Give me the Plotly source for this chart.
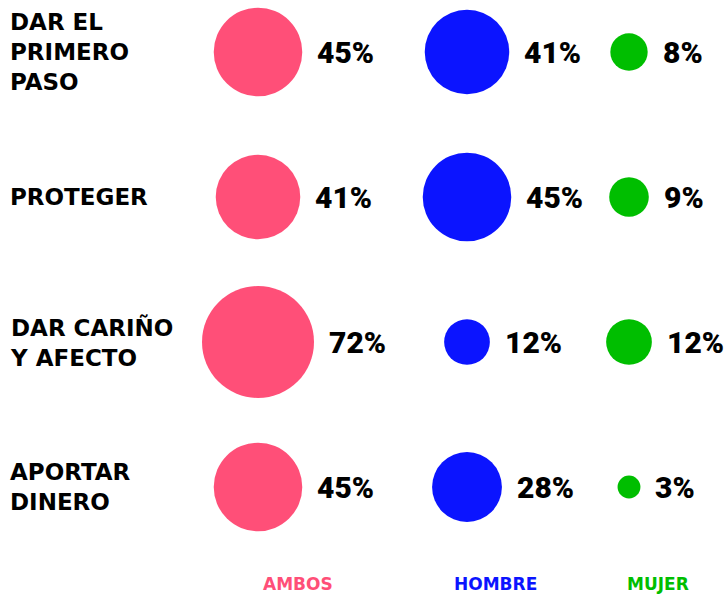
import plotly.graph_objects as go
import math

categories = ["DAR EL<br>PRIMERO<br>PASO", "PROTEGER", "DAR CARIÑO<br>Y AFECTO", "APORTAR<br>DINERO"]
series_names = ["AMBOS", "HOMBRE", "MUJER"]
ambos = [45, 41, 72, 45]
hombre = [41, 45, 12, 28]
mujer = [8, 9, 12, 3]

colors = ["#FF4F78", "#0B14FF", "#00BE00"]
col_x = [258, 467, 629]      # column centres (px units of x axis)
header_x = [298, 495, 658]
K = 13.2                      # diameter per sqrt(percent)
FONT = "DejaVu Sans"
PCT_FONT = "Roboto"

fig = go.Figure()
series = [ambos, hombre, mujer]
for s, (vals, color, cx) in enumerate(zip(series, colors, col_x)):
    fig.add_trace(go.Scatter(
        x=[cx] * len(vals), y=list(range(len(vals))),
        mode="markers",
        marker=dict(size=[K * math.sqrt(v) for v in vals], sizemode="diameter",
                    color=color, line=dict(width=0), opacity=1),
        hoverinfo="skip", showlegend=False, name=series_names[s]))
    for i, v in enumerate(vals):
        fig.add_annotation(x=cx, y=i, xref="x", yref="y", text=f"{v}%",
                           showarrow=False, xanchor="left", yanchor="middle",
                           xshift=K * math.sqrt(v) / 2 + 13,
                           font=dict(family=PCT_FONT, size=30, color="#000", weight=900))

for i, c in enumerate(categories):
    fig.add_annotation(x=8, y=i, xref="x", yref="y", text=c, showarrow=False,
                       xanchor="left", yanchor="middle", align="left",
                       font=dict(family=FONT, size=23, color="#000", weight="bold"))

for name, color, hx in zip(series_names, colors, header_x):
    fig.add_annotation(x=hx, y=0, xref="x", yref="paper", text=name, showarrow=False,
                       xanchor="center", yanchor="bottom", yshift=-1,
                       font=dict(family=FONT, size=17, color=color, weight="bold"))

fig.update_layout(
    width=726, height=595, margin=dict(l=0, r=0, t=0, b=0),
    paper_bgcolor="white", plot_bgcolor="white",
    xaxis=dict(range=[0, 726], visible=False, fixedrange=True),
    yaxis=dict(range=[(595 - 52) / 145, -52 / 145], visible=False, fixedrange=True),
)
fig.write_html("out.html", config={"displayModeBar": False},
               post_script="document.body.style.margin='0';document.body.style.overflow='hidden';")
